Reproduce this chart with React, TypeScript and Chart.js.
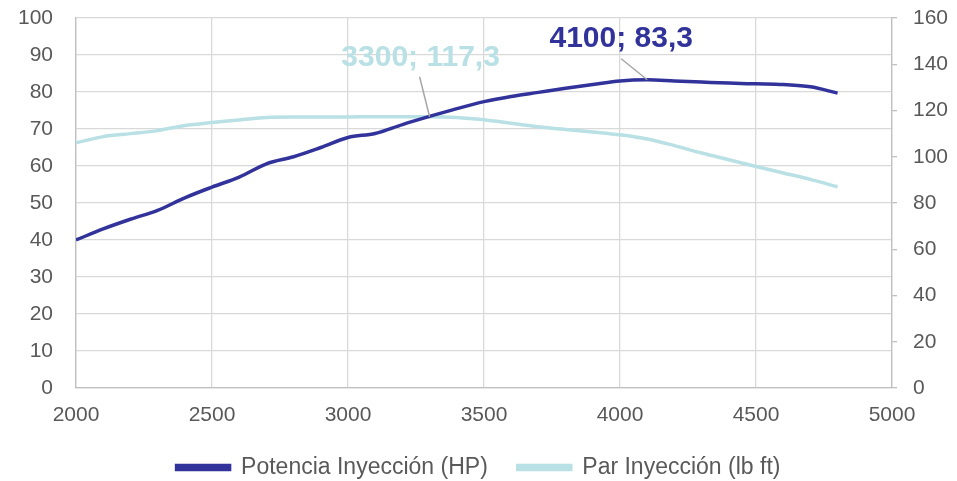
import React, { useEffect, useRef } from "react";
import { Chart, registerables } from "chart.js";

Chart.register(...registerables);

const rpm = [2000, 2100, 2200, 2300, 2400, 2500, 2600, 2700, 2800, 2900, 3000, 3100, 3200, 3300, 3400, 3500, 3600, 3700, 3800, 3900, 4000, 4100, 4200, 4300, 4400, 4500, 4600, 4700, 4800];
const potenciaHP = [40, 43, 45.6, 48, 51.4, 54.3, 57, 60.6, 62.5, 65, 67.7, 68.8, 71.2, 73.4, 75.5, 77.4, 78.8, 79.9, 81, 82, 83, 83.3, 83, 82.7, 82.4, 82.2, 82, 81.4, 79.7];
const parLbFt = [106, 108.7, 110, 111.3, 113.5, 114.8, 115.9, 117, 117.2, 117.2, 117.2, 117.3, 117.3, 117.3, 117, 116, 114.5, 113, 111.8, 110.7, 109.5, 107.7, 104.8, 101.6, 98.7, 95.8, 93, 90.2, 87];
const seriesNames = ["Potencia Inyección (HP)", "Par Inyección (lb ft)"];
const xTicks = { min: 2000, max: 5000, step: 500 };
const yLeftTicks = { min: 0, max: 100, step: 10 };
const yRightTicks = { min: 0, max: 160, step: 20 };
const labelRpm = [4100, 3300];

const DARK = "#31339B";
const LIGHT = "#B9E0E4";
const GRID = "#D9D9D9";
const TXT = "#595959";
const FONT = "'Liberation Sans', Arial, sans-serif";

const labelPlugin = {
  id: "pointLabels",
  afterDatasetsDraw(chart: any) {
    const ctx = chart.ctx;
    const specs = [
      { ds: 0, rpmv: labelRpm[0], color: DARK, lead: [-26, -21], text: [-26, -32.6] },
      { ds: 1, rpmv: labelRpm[1], color: LIGHT, lead: [-10, -40], text: [-9, -51] },
    ];
    specs.forEach((s) => {
      const idx = rpm.indexOf(s.rpmv);
      const el = chart.getDatasetMeta(s.ds).data[idx];
      if (!el) return;
      const v = chart.data.datasets[s.ds].data[idx].y;
      ctx.save();
      ctx.strokeStyle = "#A6A6A6";
      ctx.lineWidth = 1.5;
      ctx.beginPath();
      ctx.moveTo(el.x + s.lead[0], el.y + s.lead[1]);
      ctx.lineTo(el.x, el.y);
      ctx.stroke();
      ctx.fillStyle = s.color;
      ctx.font = `bold 30px ${FONT}`;
      ctx.textAlign = "center";
      ctx.textBaseline = "alphabetic";
      ctx.fillText(`${s.rpmv}; ${String(v).replace(".", ",")}`, el.x + s.text[0], el.y + s.text[1]);
      ctx.restore();
    });
  },
};

const fitY = (w: number) => (s: any) => {
  s.width = w;
  s.paddingTop = 12;
  s.paddingBottom = 12;
};

export default function App() {
  const ref = useRef<HTMLCanvasElement>(null);
  useEffect(() => {
    document.body.style.margin = "0";
    const c = ref.current;
    if (!c) return;
    const chart = new Chart(c, {
      type: "line",
      data: {
        datasets: [
          {
            label: seriesNames[0],
            data: rpm.map((x, i) => ({ x, y: potenciaHP[i] })),
            borderColor: DARK,
            backgroundColor: DARK,
            borderWidth: 3.5,
            pointRadius: 0,
            cubicInterpolationMode: "monotone",
            yAxisID: "y",
          },
          {
            label: seriesNames[1],
            data: rpm.map((x, i) => ({ x, y: parLbFt[i] })),
            borderColor: LIGHT,
            backgroundColor: LIGHT,
            borderWidth: 3.5,
            pointRadius: 0,
            cubicInterpolationMode: "monotone",
            yAxisID: "y1",
          },
        ],
      },
      options: {
        responsive: false,
        animation: false,
        layout: { padding: { top: 18, left: 0, right: 0, bottom: -8 } },
        plugins: {
          tooltip: { enabled: false },
          legend: {
            position: "bottom",
            labels: {
              boxWidth: 53,
              boxHeight: 4,
              padding: 30,
              color: TXT,
              font: { family: FONT, size: 23 },
            },
          },
        },
        scales: {
          x: {
            type: "linear",
            min: xTicks.min,
            max: xTicks.max,
            ticks: {
              stepSize: xTicks.step,
              color: TXT,
              font: { family: FONT, size: 21 },
              padding: 15,
              maxRotation: 0,
              callback: (v: any) => String(v),
            },
            grid: { color: GRID, lineWidth: 1.3, drawTicks: false },
            border: { color: "#BFBFBF", width: 1.3 },
            afterFit: (s: any) => { s.height = 38; },
          },
          y: {
            position: "left",
            min: yLeftTicks.min,
            max: yLeftTicks.max,
            ticks: { stepSize: yLeftTicks.step, color: TXT, font: { family: FONT, size: 21 }, padding: 23 },
            grid: { color: GRID, lineWidth: 1.3, drawTicks: false },
            border: { color: "#BFBFBF", width: 1.3 },
            afterFit: fitY(76),
          },
          y1: {
            position: "right",
            min: yRightTicks.min,
            max: yRightTicks.max,
            ticks: { stepSize: yRightTicks.step, color: TXT, font: { family: FONT, size: 21 }, padding: 16 },
            grid: { drawOnChartArea: false, color: "#BFBFBF", lineWidth: 1.3, tickLength: 5 },
            border: { color: "#BFBFBF", width: 1.3 },
            afterFit: fitY(65),
          },
        },
      },
      plugins: [labelPlugin],
    });
    return () => chart.destroy();
  }, []);
  return (
    <div style={{ width: 957, height: 481 }}>
      <canvas ref={ref} width={957} height={481} />
    </div>
  );
}
